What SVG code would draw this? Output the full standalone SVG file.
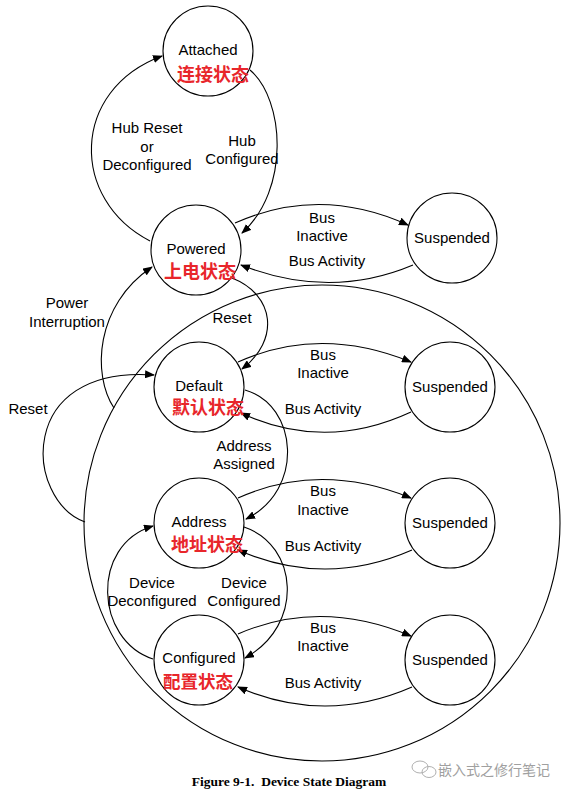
<svg xmlns="http://www.w3.org/2000/svg" width="568" height="794" viewBox="0 0 568 794">
<defs>
<marker id="ah" markerWidth="10" markerHeight="8" refX="9" refY="4" orient="auto" markerUnits="userSpaceOnUse">
<path d="M0,0 L10,4 L0,8 Z" fill="#000"/>
</marker>
<style>
.st{fill:#fff;stroke:#000;stroke-width:1.1}
.big{fill:none;stroke:#000;stroke-width:1.1}
.cn path{fill:none;stroke:#000;stroke-width:1.1;marker-end:url(#ah)}
.t{font-family:"Liberation Sans",Arial,sans-serif;font-size:15px;fill:#000;text-anchor:middle}
.z{font-family:"Noto Sans CJK SC",sans-serif;font-size:18px;font-weight:bold;fill:#e8262b;text-anchor:middle}
.cap{font-family:"Liberation Serif","Times New Roman",serif;font-size:13.5px;font-weight:bold;fill:#000;text-anchor:middle;white-space:pre}
.wm{font-family:"Noto Sans CJK SC",sans-serif;font-size:14px;fill:#a0a0a0}
</style>
</defs>
<rect width="568" height="794" fill="#fff"/>
<circle class="big" cx="322" cy="523" r="238"/>
<g class="cn">
<path d="M250,70 C285,100 290,190 242,233"/>
<path d="M150,241 C70,200 70,90 162,56"/>
<path d="M235,223 Q320,185 408,225"/>
<path d="M413,265 Q330,300 241,265"/>
<path d="M232,278 C275,295 280,340 242,369"/>
<path d="M114,408 C92,375 95,305 152,267"/>
<path d="M85,522 C25,500 15,365 154,375"/>
<path d="M238,362 Q320,325 411,362"/>
<path d="M411,412 Q325,452 241,413"/>
<path d="M245,390 C298,405 305,490 246,519"/>
<path d="M238,498 Q320,461 411,498"/>
<path d="M412,550 Q325,588 238,550"/>
<path d="M244,527 C298,545 305,625 245,658"/>
<path d="M153,659 C95,640 90,545 153,526"/>
<path d="M238,634 Q320,598 411,636"/>
<path d="M412,687 Q325,725 238,687"/>
</g>
<g id="attached"><circle class="st" cx="208" cy="51" r="45"/><text class="t" x="208" y="55">Attached</text><text class="z" x="213" y="81">连接状态</text></g>
<g id="powered"><circle class="st" cx="196" cy="250" r="45"/><text class="t" x="196" y="254">Powered</text><text class="z" x="200" y="278">上电状态</text></g>
<g id="susp1"><circle class="st" cx="452" cy="238" r="45"/><text class="t" x="452" y="243">Suspended</text></g>
<g id="default"><circle class="st" cx="199" cy="387" r="45"/><text class="t" x="199" y="391">Default</text><text class="z" x="208" y="414">默认状态</text></g>
<g id="susp2"><circle class="st" cx="450" cy="387" r="45"/><text class="t" x="450" y="392">Suspended</text></g>
<g id="address"><circle class="st" cx="199" cy="523" r="45"/><text class="t" x="199" y="527">Address</text><text class="z" x="207" y="551">地址状态</text></g>
<g id="susp3"><circle class="st" cx="450" cy="523" r="45"/><text class="t" x="450" y="528">Suspended</text></g>
<g id="configured"><circle class="st" cx="199" cy="660" r="45"/><text class="t" x="199" y="663">Configured</text><text class="z" x="198" y="688" style="font-size:17.5px">配置状态</text></g>
<g id="susp4"><circle class="st" cx="450" cy="660" r="45"/><text class="t" x="450" y="665">Suspended</text></g>
<g id="labels">
<text class="t" x="147" y="133">Hub Reset</text><text class="t" x="147" y="152">or</text><text class="t" x="147" y="170">Deconfigured</text>
<text class="t" x="242" y="146">Hub</text><text class="t" x="242" y="164">Configured</text>
<text class="t" x="322" y="223">Bus</text><text class="t" x="322" y="241">Inactive</text><text class="t" x="327" y="266">Bus Activity</text>
<text class="t" x="67" y="308">Power</text><text class="t" x="67" y="327">Interruption</text>
<text class="t" x="232" y="323">Reset</text>
<text class="t" x="28" y="414">Reset</text>
<text class="t" x="323" y="360">Bus</text><text class="t" x="323" y="378">Inactive</text><text class="t" x="323" y="414">Bus Activity</text>
<text class="t" x="244" y="451">Address</text><text class="t" x="244" y="469">Assigned</text>
<text class="t" x="323" y="496">Bus</text><text class="t" x="323" y="515">Inactive</text><text class="t" x="323" y="551">Bus Activity</text>
<text class="t" x="152" y="588">Device</text><text class="t" x="152" y="606">Deconfigured</text>
<text class="t" x="244" y="588">Device</text><text class="t" x="244" y="606">Configured</text>
<text class="t" x="323" y="633">Bus</text><text class="t" x="323" y="651">Inactive</text><text class="t" x="323" y="688">Bus Activity</text>
</g>
<text class="cap" x="289" y="786" xml:space="preserve">Figure 9-1.  Device State Diagram</text>
<g id="watermark" fill="none" stroke="#b0b0b0" stroke-width="1">
<ellipse cx="420" cy="767" rx="8" ry="6"/>
<ellipse cx="429" cy="772" rx="7" ry="5.5"/>
</g>
<text class="wm" x="438" y="775">嵌入式之修行笔记</text>
</svg>
